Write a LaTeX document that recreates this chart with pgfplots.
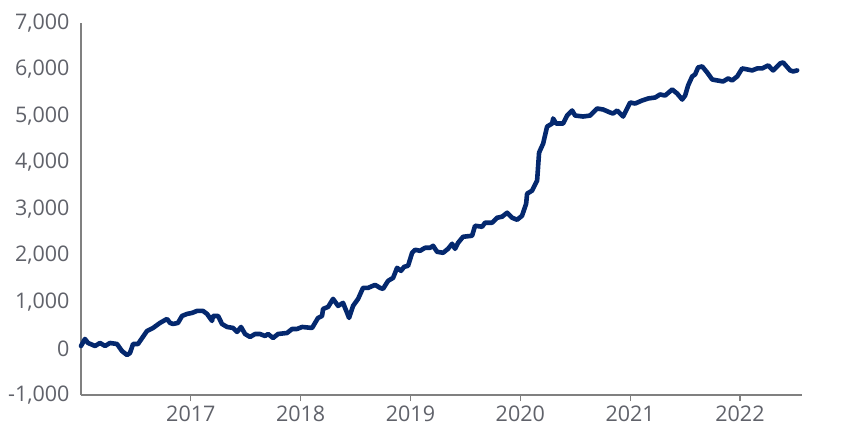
\documentclass[border=0pt]{standalone}
\usepackage{fontspec}
\setmainfont{Open Sans}
\usepackage{pgfplots}
\pgfplotsset{compat=1.18}
\definecolor{navy}{RGB}{4,40,110}
\definecolor{txtgray}{RGB}{96,98,106}
\definecolor{axgray}{RGB}{128,128,128}
\begin{document}
\begin{tikzpicture}
	\begin{axis}[
		at={(0,0)}, anchor=south west,
		width=721bp, height=372bp,
		scale only axis,
		xmin=2016, xmax=2022.565,
		ymin=-1000, ymax=7000,
		axis x line=bottom,
		axis y line=left,
		axis line style={-, axgray, line width=1.2bp},
		xtick={2017,2018,2019,2020,2021,2022},
		xticklabels={2017,2018,2019,2020,2021,2022},
		ytick={-1000,0,1000,2000,3000,4000,5000,6000,7000},
		yticklabels={{-1,000},{0},{1,000},{2,000},{3,000},{4,000},{5,000},{6,000},{7,000}},
		xtick align=outside,
		major tick length=6bp,
		x tick style={axgray, line width=1.2bp},
		y tick style={draw=none},
		tick label style={font=\fontsize{21.5bp}{24bp}\selectfont, text=txtgray},
		yticklabel style={xshift=-5bp},
		xticklabel style={yshift=-1bp},
		clip=false,
	]
	\addplot[color=navy, line width=4.6bp, line join=round, line cap=round] coordinates {
		(2016.000,54) (2016.036,205) (2016.064,119) (2016.128,54) (2016.173,119)
		(2016.219,54) (2016.264,119) (2016.328,97) (2016.373,-54) (2016.419,-140)
		(2016.446,-97) (2016.474,97) (2016.519,97) (2016.601,377) (2016.656,442)
		(2016.719,550) (2016.783,636) (2016.811,550) (2016.838,528) (2016.883,550)
		(2016.920,700) (2016.965,743) (2017.011,765) (2017.056,808) (2017.111,808)
		(2017.148,743) (2017.193,593) (2017.202,700) (2017.248,700) (2017.284,528)
		(2017.330,463) (2017.384,442) (2017.421,356) (2017.457,463) (2017.494,312)
		(2017.539,248) (2017.585,312) (2017.630,312) (2017.676,269) (2017.703,312)
		(2017.749,226) (2017.794,312) (2017.876,334) (2017.922,420) (2017.967,420)
		(2018.013,463) (2018.104,442) (2018.158,657) (2018.195,700) (2018.204,851)
		(2018.250,894) (2018.295,1067) (2018.341,916) (2018.386,981) (2018.423,765)
		(2018.441,657) (2018.477,916) (2018.523,1067) (2018.568,1304) (2018.614,1304)
		(2018.678,1368) (2018.723,1304) (2018.750,1282) (2018.796,1455) (2018.842,1519)
		(2018.878,1735) (2018.914,1670) (2018.942,1756) (2018.978,1778) (2019.015,2058)
		(2019.042,2123) (2019.087,2101) (2019.133,2166) (2019.179,2166) (2019.206,2209)
		(2019.242,2080) (2019.297,2058) (2019.342,2144) (2019.379,2252) (2019.406,2144)
		(2019.434,2274) (2019.479,2403) (2019.561,2424) (2019.588,2640) (2019.652,2618)
		(2019.679,2705) (2019.743,2705) (2019.789,2812) (2019.834,2834) (2019.880,2920)
		(2019.925,2812) (2019.971,2769) (2020.016,2855) (2020.053,3114) (2020.062,3330)
		(2020.107,3394) (2020.153,3610) (2020.171,4213) (2020.208,4407) (2020.244,4773)
		(2020.290,4838) (2020.299,4946) (2020.326,4838) (2020.390,4838) (2020.426,5010)
		(2020.472,5118) (2020.499,5010) (2020.572,4989) (2020.636,5010) (2020.699,5161)
		(2020.754,5140) (2020.818,5075) (2020.845,5053) (2020.882,5118) (2020.936,4989)
		(2020.973,5161) (2021.000,5290) (2021.046,5269) (2021.109,5333) (2021.164,5377)
		(2021.228,5398) (2021.273,5463) (2021.319,5441) (2021.383,5570) (2021.428,5484)
		(2021.474,5355) (2021.501,5441) (2021.528,5657) (2021.565,5851) (2021.592,5894)
		(2021.619,6045) (2021.656,6066) (2021.701,5937) (2021.747,5786) (2021.792,5765)
		(2021.847,5743) (2021.893,5808) (2021.929,5765) (2021.975,5851) (2022.020,6023)
		(2022.066,6002) (2022.111,5980) (2022.157,6023) (2022.202,6023) (2022.257,6088)
		(2022.302,5980) (2022.366,6131) (2022.393,6152) (2022.457,5980) (2022.484,5959)
		(2022.521,5980)
	};
	\end{axis}
	\pgfresetboundingbox
	\useasboundingbox (-81bp,-46bp) rectangle (772bp,395bp);
\end{tikzpicture}
\end{document}
